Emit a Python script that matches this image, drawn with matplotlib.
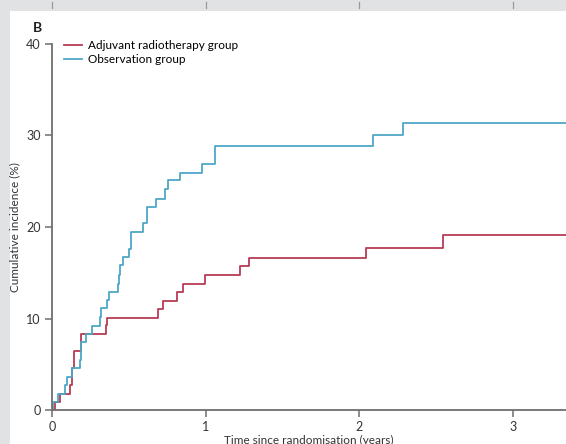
import matplotlib
matplotlib.use("Agg")
import matplotlib.pyplot as plt
from matplotlib.patches import Rectangle
from matplotlib.lines import Line2D

plt.rcParams['font.family'] = ['Lato', 'DejaVu Sans']

# ---- data ----
end_time = 3.35
radio_times = [0.0, 0.02, 0.05, 0.117, 0.128, 0.145, 0.19, 0.35, 0.36, 0.69, 0.725,
               0.815, 0.85, 0.995, 1.223, 1.284, 2.04, 2.546]
radio_vals = [0.0, 0.9, 1.8, 2.7, 4.6, 6.4, 8.3, 9.3, 10.1, 11.0, 11.95,
              12.9, 13.8, 14.7, 15.7, 16.6, 17.7, 19.1]
obs_times = [0.0, 0.005, 0.04, 0.085, 0.095, 0.128, 0.18, 0.19, 0.22, 0.26, 0.31,
             0.32, 0.355, 0.37, 0.428, 0.435, 0.44, 0.46, 0.50, 0.515, 0.59,
             0.615, 0.675, 0.735, 0.755, 0.83, 0.974, 1.06, 2.09, 2.286]
obs_vals = [0.0, 0.9, 1.8, 2.7, 3.6, 4.6, 5.5, 7.4, 8.3, 9.2, 10.2,
            11.1, 12.0, 12.9, 13.8, 14.7, 15.8, 16.7, 17.6, 19.4, 20.4,
            22.2, 23.1, 24.1, 25.1, 25.9, 26.9, 28.8, 30.0, 31.4]
x_ticks = [0, 1, 2, 3]
y_ticks = [0, 10, 20, 30, 40]
labels = ["Adjuvant radiotherapy group", "Observation group"]
colors = ["#b83a56", "#4ea6c6"]

W, H = 566, 444
fig = plt.figure(figsize=(W / 100, H / 100), dpi=100)
fig.patch.set_facecolor("#e1e2e4")
fig.patches.append(Rectangle((10 / W, 0), 1, 1 - 11 / H, transform=fig.transFigure,
                             facecolor="white", edgecolor="none", zorder=-5))
# remnants of previous panel ticks at top
for xp in [52, 206, 359, 513]:
    fig.lines.append(Line2D([xp / W, xp / W], [1 - 2 / H, 1 - 8 / H], transform=fig.transFigure,
                            color="#9a9a9a", lw=0.9, zorder=-4))

ax = fig.add_axes([52 / W, (H - 410) / H, (W - 52) / W, (410 - 44) / H])
ax.set_facecolor("none")

for t, v, c, lab in [(radio_times, radio_vals, colors[0], labels[0]),
                     (obs_times, obs_vals, colors[1], labels[1])]:
    ax.step(list(t) + [end_time], list(v) + [v[-1]], where="post", color=c, lw=1.3, label=lab)

ax.set_xlim(0, (W - 52) / 153.7)
ax.set_ylim(0, 40)
ax.set_xticks(x_ticks)
ax.set_yticks(y_ticks)
for s in ["top", "right"]:
    ax.spines[s].set_visible(False)
for s in ["left", "bottom"]:
    ax.spines[s].set_color("#6e6e6e")
    ax.spines[s].set_linewidth(1.3)
ax.tick_params(axis="both", direction="out", length=5, width=1.1, color="#6e6e6e",
               labelsize=9, labelcolor="#333333", pad=3)
ax.set_xlabel("Time since randomisation (years)", fontsize=8.5, color="#333333", labelpad=1)
ax.set_ylabel("Cumulative incidence (%)", fontsize=8.5, color="#333333", labelpad=4)

ax.legend(loc="upper left", bbox_to_anchor=(0.014, 1.024), frameon=False, fontsize=8.5,
          handlelength=1.55, handletextpad=0.5, labelspacing=0.25, borderaxespad=0)
fig.text(37 / W, 1 - 28 / H, "B", fontsize=10, fontweight="bold", color="#222222",
         va="center", ha="center")

fig.savefig("out.png", dpi=100, facecolor=fig.get_facecolor())
